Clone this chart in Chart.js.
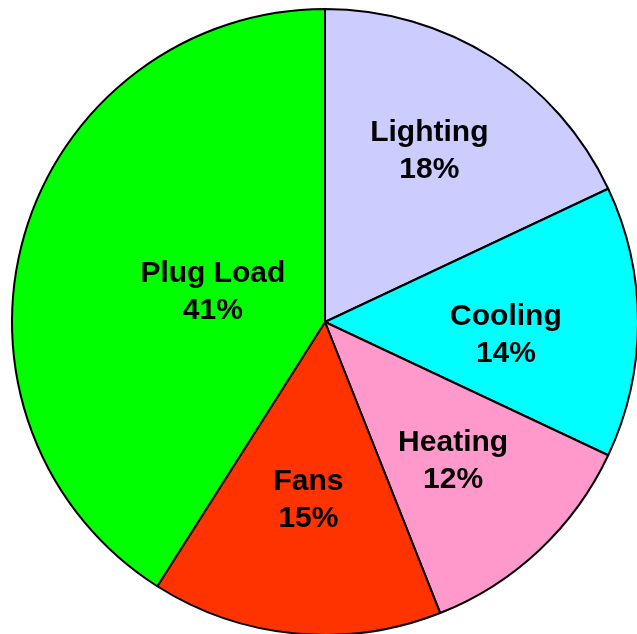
<!DOCTYPE html>
<html>
<head>
<meta charset="utf-8">
<script src="https://cdn.jsdelivr.net/npm/chart.js@4.4.0/dist/chart.umd.min.js"></script>
<style>
html,body{margin:0;padding:0;background:#fff;overflow:hidden;}
#wrap{position:absolute;left:0;top:0;width:650px;height:645px;}
</style>
</head>
<body>
<div id="wrap"><canvas id="c" width="650" height="645"></canvas></div>
<script>
const categories = ["Lighting", "Cooling", "Heating", "Fans", "Plug Load"];
const shares = [18, 14, 12, 15, 41];
const percentLabels = ["18%", "14%", "12%", "15%", "41%"];
const sliceColors = ["#CCCCFF", "#00FFFF", "#FF99CC", "#FF3300", "#00FF00"];

const labelPlugin = {
  id: 'sliceLabels',
  afterDatasetsDraw(chart, args, opts) {
    const ctx = chart.ctx;
    const meta = chart.getDatasetMeta(0);
    ctx.save();
    ctx.font = 'bold 30px "Liberation Sans", Arial, sans-serif';
    ctx.fillStyle = '#000';
    ctx.textAlign = 'center';
    ctx.textBaseline = 'alphabetic';
    meta.data.forEach((arc, i) => {
      const p = arc.getProps(['x','y','startAngle','endAngle','outerRadius'], true);
      const mid = (p.startAngle + p.endAngle) / 2;
      const r = p.outerRadius * opts.radial[i];
      const cx = p.x + Math.cos(mid) * r + opts.nudge[i][0];
      const cy = p.y + Math.sin(mid) * r + opts.nudge[i][1];
      ctx.fillText(chart.data.labels[i], cx, cy - 7.75);
      ctx.fillText(percentLabels[i], cx, cy + 29.25);
    });
    ctx.restore();
  }
};

new Chart(document.getElementById('c'), {
  type: 'pie',
  data: {
    labels: categories,
    datasets: [{
      data: shares,
      backgroundColor: sliceColors,
      borderColor: '#000',
      borderWidth: 2
    }]
  },
  options: {
    responsive: false,
    animation: false,
    layout: { padding: { left: 10, right: 10, top: 8, bottom: 9 } },
    plugins: {
      legend: { display: false },
      tooltip: { enabled: false },
      sliceLabels: {
        radial: [0.646, 0.578, 0.598, 0.563, 0.373],
        nudge: [[-4, -3], [0, 11], [0, 0], [0, 0], [0, 0]]
      }
    }
  },
  plugins: [labelPlugin]
});
</script>
</body>
</html>
